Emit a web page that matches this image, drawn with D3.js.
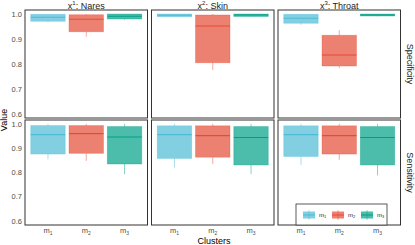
<!DOCTYPE html>
<html>
<head>
<meta charset="utf-8">
<script src="https://cdn.jsdelivr.net/npm/d3@7"></script>
<style>
body { margin: 0; background: #fff; }
text { font-family: "Liberation Sans", Arial, sans-serif; }
</style>
</head>
<body>
<div id="chart"></div>
<script>
// facets and groups
var regions = ["Nares", "Skin", "Throat"];
var regionIdx = ["1", "2", "3"];
var metrics = ["Specificity", "Sensitivity"];
var clusters = ["m1", "m2", "m3"];
var colors = ["#4DBBD5", "#E64B35", "#00A087"];
var yTicks = [0.6, 0.7, 0.8, 0.9, 1.0];

// box stats per cluster: [lower whisker, q1, median, q3, upper whisker]
var specNares  = [[0.967, 0.971, 0.987, 0.999, 1.0], [0.909, 0.929, 0.979, 0.997, 1.0], [0.977, 0.980, 0.991, 1.0, 1.0]];
var specSkin   = [[0.988, 0.989, 0.995, 1.0, 1.0], [0.776, 0.805, 0.952, 0.996, 1.0], [0.989, 0.990, 0.996, 1.0, 1.0]];
var specThroat = [[0.956, 0.963, 0.983, 0.999, 1.0], [0.783, 0.792, 0.836, 0.915, 0.936], [0.991, 0.992, 0.996, 1.0, 1.0]];
var sensNares  = [[0.855, 0.876, 0.956, 0.993, 1.0], [0.848, 0.879, 0.960, 0.993, 1.0], [0.793, 0.835, 0.946, 0.989, 1.0]];
var sensSkin   = [[0.821, 0.858, 0.956, 0.992, 1.0], [0.835, 0.863, 0.952, 0.992, 1.0], [0.793, 0.831, 0.944, 0.989, 1.0]];
var sensThroat = [[0.831, 0.866, 0.956, 0.992, 1.0], [0.852, 0.876, 0.952, 0.992, 1.0], [0.788, 0.831, 0.944, 0.989, 1.0]];

var stats = [[specNares, specSkin, specThroat], [sensNares, sensSkin, sensThroat]];

var W = 415, H = 245;
var panelLeft = 25, panelW = 122.5, gap = 4;
var rows = [[10, 118], [120, 225]];

var svg = d3.select("#chart").append("svg")
    .attr("width", W).attr("height", H);

// ggplot discrete expansion: 0.6 units on each side
var unit = panelW / 3.2;
var x = d3.scalePoint().domain(clusters).range([0.6 * unit, 2.6 * unit]);
var boxW = 0.9 * unit;

metrics.forEach(function(metric, r) {
  var y = d3.scaleLinear().domain([0.584, 1.016]).range([rows[r][1], rows[r][0]]);

  // y tick labels (left of first panel only)
  svg.append("g").selectAll("text")
    .data(yTicks).enter().append("text")
      .attr("x", panelLeft - 3)
      .attr("y", function(d) { return y(d); })
      .attr("dy", "0.35em")
      .attr("text-anchor", "end")
      .attr("font-size", 7.5)
      .attr("fill", "#4d4d4d")
      .text(function(d) { return d.toFixed(1); });

  regions.forEach(function(region, c) {
    var px = panelLeft + c * (panelW + gap);
    var g = svg.append("g").attr("transform", "translate(" + px + ",0)");

    var boxes = g.selectAll(".box")
      .data(stats[r][c]).enter().append("g");

    // whiskers, drawn outside the box only
    [[0, 1], [3, 4]].forEach(function(seg) {
      boxes.append("line")
        .attr("x1", function(d, i) { return x(clusters[i]); })
        .attr("x2", function(d, i) { return x(clusters[i]); })
        .attr("y1", function(d) { return y(d[seg[0]]); })
        .attr("y2", function(d) { return y(d[seg[1]]); })
        .attr("stroke", function(d, i) { return colors[i]; })
        .attr("stroke-opacity", 0.6)
        .attr("stroke-width", 0.8);
    });

    boxes.append("rect")
      .attr("x", function(d, i) { return x(clusters[i]) - boxW / 2; })
      .attr("width", boxW)
      .attr("y", function(d) { return y(d[3]); })
      .attr("height", function(d) { return y(d[1]) - y(d[3]); })
      .attr("fill", function(d, i) { return colors[i]; })
      .attr("fill-opacity", 0.7)
      .attr("stroke", function(d, i) { return colors[i]; })
      .attr("stroke-opacity", 0.4)
      .attr("stroke-width", 0.8);

    // medians
    boxes.append("line")
      .attr("x1", function(d, i) { return x(clusters[i]) - boxW / 2; })
      .attr("x2", function(d, i) { return x(clusters[i]) + boxW / 2; })
      .attr("y1", function(d) { return y(d[2]); })
      .attr("y2", function(d) { return y(d[2]); })
      .attr("stroke", function(d, i) { return colors[i]; })
      .attr("stroke-width", 1.2);

    // panel border
    g.append("rect")
      .attr("x", 0).attr("y", rows[r][0])
      .attr("width", panelW).attr("height", rows[r][1] - rows[r][0])
      .attr("fill", "none")
      .attr("stroke", "#333")
      .attr("stroke-width", 1);

    // strip label on top
    if (r === 0) {
      var t = g.append("text")
        .attr("x", panelW / 2).attr("y", 8.5)
        .attr("text-anchor", "middle")
        .attr("font-size", 9)
        .attr("fill", "#1a1a1a");
      t.append("tspan").text("x");
      t.append("tspan").attr("font-size", 6).attr("dy", -3.5).text(regionIdx[c]);
      t.append("tspan").attr("dy", 3.5).text(": " + region);
    }

    // x tick labels
    if (r === 1) {
      clusters.forEach(function(cl, i) {
        var tt = g.append("text")
          .attr("x", x(cl)).attr("y", 233)
          .attr("text-anchor", "middle")
          .attr("font-size", 7.5)
          .attr("fill", "#4d4d4d");
        tt.append("tspan").text("m");
        tt.append("tspan").attr("font-size", 5).attr("dy", 1.5).text(cl.slice(1));
      });
    }
  });

  // right strip label
  var cy = (rows[r][0] + rows[r][1]) / 2;
  svg.append("text")
    .attr("transform", "translate(410.5," + cy + ") rotate(90)")
    .attr("text-anchor", "middle")
    .attr("dy", "0.35em")
    .attr("font-size", 9)
    .attr("fill", "#1a1a1a")
    .text(metric);
});

// axis titles
svg.append("text")
  .attr("transform", "translate(4,120) rotate(-90)")
  .attr("text-anchor", "middle")
  .attr("dy", "0.35em")
  .attr("font-size", 9)
  .text("Value");

svg.append("text")
  .attr("x", 214).attr("y", 243.5)
  .attr("text-anchor", "middle")
  .attr("font-size", 9)
  .text("Clusters");

// legend inside bottom-right panel
var lg = svg.append("g").attr("transform", "translate(296,204)");
lg.append("rect")
  .attr("width", 91).attr("height", 21)
  .attr("fill", "#fff")
  .attr("stroke", "#333")
  .attr("stroke-width", 0.8);

var items = lg.selectAll(".item")
  .data(clusters).enter().append("g")
    .attr("transform", function(d, i) { return "translate(" + (7 + i * 29) + ",6)"; });

items.append("line")
  .attr("x1", 6).attr("x2", 6).attr("y1", 0).attr("y2", 10)
  .attr("stroke", function(d, i) { return colors[i]; })
  .attr("stroke-opacity", 0.6)
  .attr("stroke-width", 0.8);
items.append("rect")
  .attr("x", 0).attr("y", 1.5).attr("width", 12).attr("height", 7)
  .attr("fill", function(d, i) { return colors[i]; })
  .attr("fill-opacity", 0.7);
items.append("line")
  .attr("x1", 0).attr("x2", 12).attr("y1", 5).attr("y2", 5)
  .attr("stroke", function(d, i) { return colors[i]; })
  .attr("stroke-width", 1);

var lt = items.append("text")
  .attr("x", 16).attr("y", 5)
  .attr("dy", "0.35em")
  .attr("font-size", 6)
  .attr("fill", "#1a1a1a");
lt.append("tspan").text("m");
lt.append("tspan").attr("font-size", 4).attr("dy", 1).text(function(d) { return d.slice(1); });
</script>
</body>
</html>
